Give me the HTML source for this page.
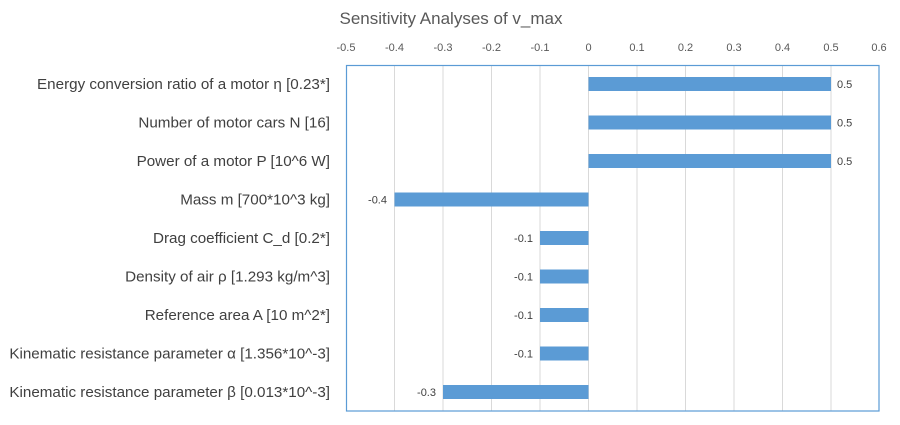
<!DOCTYPE html>
<html><head><meta charset="utf-8"><style>
body{margin:0;background:#fff;}
svg{display:block;font-family:"Liberation Sans",sans-serif;}
</style></head><body>
<svg width="900" height="425" xmlns="http://www.w3.org/2000/svg">
<text x="451" y="24" font-size="17" fill="#595959" text-anchor="middle">Sensitivity Analyses of v_max</text>
<g stroke="#d9d9d9" stroke-width="1">
<line x1="394.5" y1="66" x2="394.5" y2="411"/>
<line x1="443" y1="66" x2="443" y2="411"/>
<line x1="491.5" y1="66" x2="491.5" y2="411"/>
<line x1="540" y1="66" x2="540" y2="411"/>
<line x1="588.5" y1="66" x2="588.5" y2="411"/>
<line x1="637" y1="66" x2="637" y2="411"/>
<line x1="685.5" y1="66" x2="685.5" y2="411"/>
<line x1="734" y1="66" x2="734" y2="411"/>
<line x1="782.5" y1="66" x2="782.5" y2="411"/>
<line x1="831" y1="66" x2="831" y2="411"/>
</g>
<rect x="346.5" y="65.5" width="532.5" height="345.5" fill="none" stroke="#5b9bd5" stroke-width="1.2"/>
<g font-size="11" fill="#595959" text-anchor="middle">
<text x="346" y="51">-0.5</text><text x="394.5" y="51">-0.4</text><text x="443" y="51">-0.3</text><text x="491.5" y="51">-0.2</text><text x="540" y="51">-0.1</text><text x="588.5" y="51">0</text><text x="637" y="51">0.1</text><text x="685.5" y="51">0.2</text><text x="734" y="51">0.3</text><text x="782.5" y="51">0.4</text><text x="831" y="51">0.5</text><text x="879" y="51">0.6</text>
</g>
<g fill="#5b9bd5">
<rect x="588.5" y="77" width="242.5" height="14"/>
<rect x="588.5" y="115.5" width="242.5" height="14"/>
<rect x="588.5" y="154" width="242.5" height="14"/>
<rect x="394.5" y="192.5" width="194" height="14"/>
<rect x="540" y="231" width="48.5" height="14"/>
<rect x="540" y="269.5" width="48.5" height="14"/>
<rect x="540" y="308" width="48.5" height="14"/>
<rect x="540" y="346.5" width="48.5" height="14"/>
<rect x="443" y="385" width="145.5" height="14"/>
</g>
<g font-size="11" fill="#404040">
<text x="837" y="88">0.5</text><text x="837" y="126.5">0.5</text><text x="837" y="165">0.5</text>
<text x="387" y="203.5" text-anchor="end">-0.4</text>
<text x="533" y="242" text-anchor="end">-0.1</text>
<text x="533" y="280.5" text-anchor="end">-0.1</text>
<text x="533" y="319" text-anchor="end">-0.1</text>
<text x="533" y="357.5" text-anchor="end">-0.1</text>
<text x="436" y="396" text-anchor="end">-0.3</text>
</g>
<g font-size="15.2" fill="#404040" text-anchor="end">
<text x="330" y="89">Energy conversion ratio of a motor η [0.23*]</text>
<text x="330" y="127.5">Number of motor cars N [16]</text>
<text x="330" y="166">Power of a motor P [10^6 W]</text>
<text x="330" y="204.5">Mass m [700*10^3 kg]</text>
<text x="330" y="243">Drag coefficient C_d [0.2*]</text>
<text x="330" y="281.5">Density of air ρ [1.293 kg/m^3]</text>
<text x="330" y="320">Reference area A [10 m^2*]</text>
<text x="330" y="358.5">Kinematic resistance parameter α [1.356*10^-3]</text>
<text x="330" y="397">Kinematic resistance parameter β [0.013*10^-3]</text>
</g>
</svg>
</body></html>
